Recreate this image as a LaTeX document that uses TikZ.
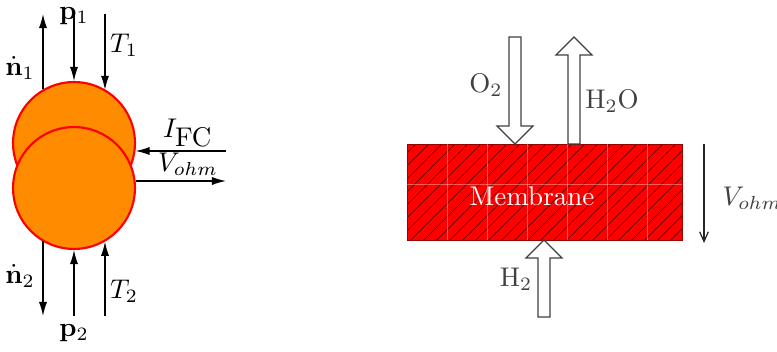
\documentclass[tikz,border=0pt]{standalone}
\usetikzlibrary{arrows.meta,patterns.meta}
\definecolor{cellorange}{RGB}{255,140,0}
\begin{document}
\begin{tikzpicture}[x=0.37pt,y=-0.37pt,>={Latex[length=5.2pt,width=3pt]},
 cell/.style={circle,draw=red,line width=.8pt,fill=cellorange,minimum size=45.1pt,inner sep=0pt},
 flow/.style={->,line width=.45pt},
 fat/.style={draw=black!75,fill=white,line width=.45pt},
 gas/.style={text=black!75},
 membrane/.style={draw=black!40!red,line width=.3pt,preaction={fill=red},
  pattern={Lines[angle=45,distance=3.4pt,line width=.3pt]},pattern color=black!60!red,
  minimum width=101.75pt,minimum height=35.5pt,inner sep=0pt},
 seam/.style={white,opacity=.35,line width=.3pt}]
\useasboundingbox (0,0) rectangle (777,352);
% fuel cell as two lumped volumes
\node[cell] (ctop) at (74,143) {};
\node[cell] (cbot) at (74,188) {};
\coordinate (n1end) at (43,14);\coordinate (p1start) at (74,14);\coordinate (T1start) at (105,14);
\coordinate (n2end) at (43,316);\coordinate (p2start) at (74,316);\coordinate (T2start) at (105,316);
\coordinate (ifcstart) at (226,151);\coordinate (vohmend) at (226,181);
\draw[flow] (n1end |- ctop.120.5)--(n1end);
\draw[flow] (p1start)--(ctop.north);
\draw[flow] (T1start)--(T1start |- ctop.59.5);
\draw[flow] (n2end |- cbot.239.5)--(n2end);
\draw[flow] (p2start)--(cbot.south);
\draw[flow] (T2start)--(T2start |- cbot.300.5);
\draw[flow] (ifcstart)--(ifcstart -| ctop.-7.5);
\draw[flow] (vohmend -| cbot.6.6)--(vohmend);
\node (n1lbl) at (20,68) {$\dot{\mathbf{n}}_1$};
\node (p1lbl) at (74,16) {$\mathbf{p}_1$};
\node (T1lbl) at (124,45) {$T_1$};
\node (n2lbl) at (20,276) {$\dot{\mathbf{n}}_2$};
\node (p2lbl) at (74,333) {$\mathbf{p}_2$};
\node (T2lbl) at (124,291) {$T_2$};
\node (ifclbl) at (188,133) {$I_{\mbox{FC}}$};
\node (vohmlbl) at (188,164) {$V_{ohm}$};
% membrane
\node[membrane] (mem) at (544.5,192) {};
\foreach \gx in {447,487,...,647} \draw[seam] (\gx,144)--(\gx,240);
\draw[seam] (407,184)--(682,184);
\node[text=white] (memlbl) at (532,196) {Membrane};
\coordinate (o2tip) at (515,144);\coordinate (h2otip) at (574,37);\coordinate (h2tip) at (544,240);
\draw[fat] (o2tip)--++(-18,-18)--++(12,0)--++(0,-89)--++(12,0)--++(0,89)--++(12,0)--cycle;
\draw[fat] (h2otip)--++(18,18)--++(-12,0)--++(0,89)--++(-12,0)--++(0,-89)--++(-12,0)--cycle;
\draw[fat] (h2tip)--++(18,18)--++(-12,0)--++(0,59)--++(-12,0)--++(0,-59)--++(-12,0)--cycle;
\node[gas] (o2lbl) at (486,85) {O$_2$};
\node[gas] (h2olbl) at (612,101) {H$_2$O};
\node[gas] (h2lbl) at (516,279) {H$_2$};
\coordinate (vtop) at (704,144);\coordinate (vbot) at (704,243);
\draw[->,>={Straight Barb[length=3.6pt,width=3.2pt]},line width=.45pt,black!85] (vtop)--(vbot);
\node[gas,anchor=west] (vlbl) at (713,198) {$V_{ohm}$};
\end{tikzpicture}
\end{document}
